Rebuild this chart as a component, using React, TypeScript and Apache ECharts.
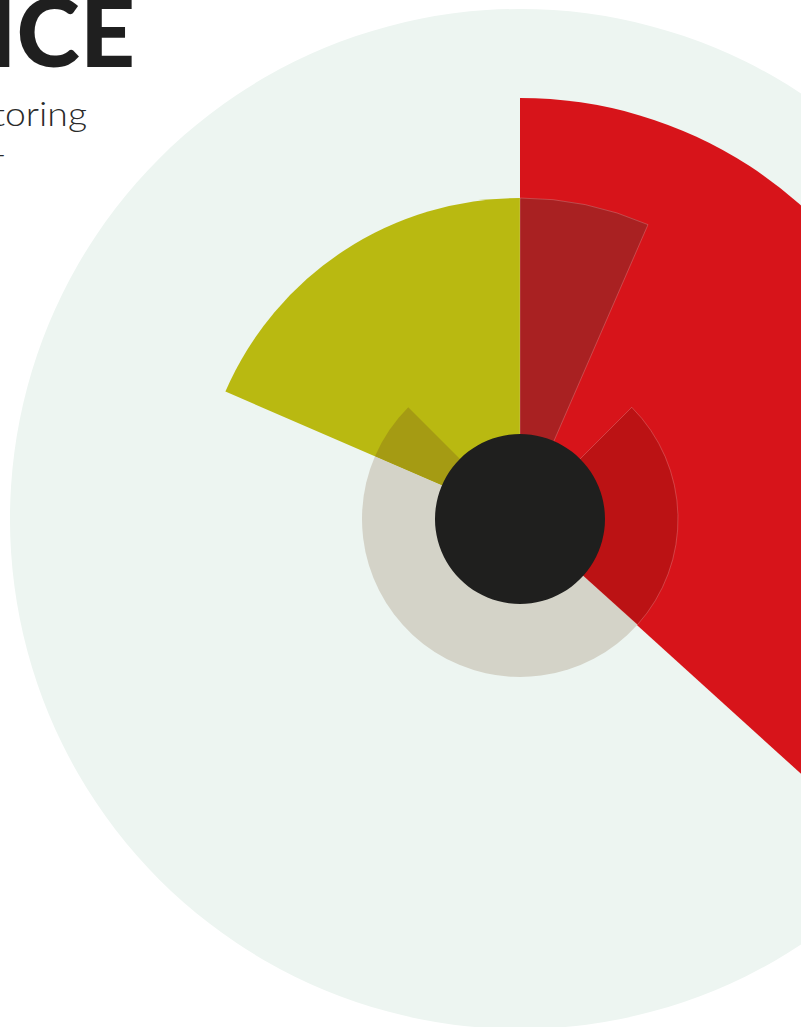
import React, { useEffect, useRef } from "react";
import * as echarts from "echarts";

// Angular extents (degrees, clockwise from 12 o'clock)
const outerRedNames = ["Red", "Rest"];
const outerRedValues = [132.2, 227.8];
const darkRedNames = ["Dark red", "Rest"];
const darkRedValues = [23.5, 336.5];
const oliveNames = ["Olive", "Rest"]; // drawn counter-clockwise from 12 o'clock
const oliveValues = [66.6, 293.4];
const innerNames = ["Inner red", "Inner grey", "Inner olive", "Gap"]; // starts at 45° (1:30)
const innerValues = [87, 161.4, 21.6, 90];

const titleLines = ["PRICE", "Price monitoring", "Q4 2014"];

const CLEAR = "rgba(0,0,0,0)";

export default function App() {
  const ref = useRef<HTMLDivElement>(null);

  useEffect(() => {
    if (!ref.current) return;
    const chart = echarts.init(ref.current, undefined, { renderer: "svg" });
    const center = [520, 519];
    const base = {
      type: "pie",
      center,
      silent: true,
      label: { show: false },
      labelLine: { show: false },
      emphasis: { disabled: true },
      avoidLabelOverlap: false,
    };
    const mk = (names: string[], values: number[], colors: string[], border?: string) =>
      names.map((n, i) => ({
        name: n,
        value: values[i],
        itemStyle: {
          color: colors[i],
          borderWidth: border && colors[i] !== CLEAR ? 0.8 : 0,
          borderColor: border || CLEAR,
        },
      }));

    chart.setOption({
      animation: false,
      backgroundColor: "#ffffff",
      graphic: [
        {
          type: "text",
          x: 135,
          y: -19,
          style: {
            text: titleLines[0],
            fill: "#1f1f1f",
            font: "900 96px Lato, 'Open Sans', sans-serif",
            textAlign: "right",
            textVerticalAlign: "top",
          },
          z: 100,
        },
        {
          type: "text",
          x: 87,
          y: 130,
          scaleX: 1.1,
          style: {
            text: titleLines[1],
            fill: "#2a2a2a",
            font: "300 34px Lato, 'Open Sans', sans-serif",
            textAlign: "right",
            textVerticalAlign: "bottom",
          },
          z: 100,
        },
        {
          type: "text",
          x: 5,
          y: 167,
          scaleX: 1.1,
          style: {
            text: titleLines[2],
            fill: "#2a2a2a",
            font: "300 34px Lato, 'Open Sans', sans-serif",
            textAlign: "right",
            textVerticalAlign: "bottom",
          },
          z: 100,
        },
      ],
      series: [
        {
          ...base,
          name: "background",
          radius: [0, 510],
          z: 1,
          data: [{ name: "All", value: 1, itemStyle: { color: "#edf5f1", borderWidth: 0 } }],
        },
        {
          ...base,
          name: "red",
          radius: [0, 421],
          startAngle: 90,
          z: 2,
          data: mk(outerRedNames, outerRedValues, ["#d7141a", CLEAR]),
        },
        {
          ...base,
          name: "olive",
          radius: [0, 321],
          startAngle: 90,
          clockwise: false,
          z: 3,
          data: mk(oliveNames, oliveValues, ["#b9b911", CLEAR]),
        },
        {
          ...base,
          name: "darkred",
          radius: [0, 321],
          startAngle: 90,
          z: 4,
          data: mk(darkRedNames, darkRedValues, ["#a92122", CLEAR], "rgba(255,255,255,0.25)"),
        },
        {
          ...base,
          name: "inner",
          radius: [0, 158],
          startAngle: 45,
          z: 5,
          data: innerNames.map((n, i) => ({
            name: n,
            value: innerValues[i],
            itemStyle: {
              color: ["#bb1214", "#d4d3c8", "#a59b13", CLEAR][i],
              borderWidth: i === 0 ? 0.8 : 0,
              borderColor: i === 0 ? "rgba(255,255,255,0.25)" : CLEAR,
            },
          })),
        },
        {
          ...base,
          name: "core",
          radius: [0, 85],
          z: 6,
          data: [{ name: "Core", value: 1, itemStyle: { color: "#1f1f1e", borderWidth: 0 } }],
        },
      ],
    });
    return () => chart.dispose();
  }, []);

  return (
    <div
      ref={ref}
      style={{ position: "absolute", left: 0, top: 0, width: 801, height: 1027 }}
    />
  );
}
